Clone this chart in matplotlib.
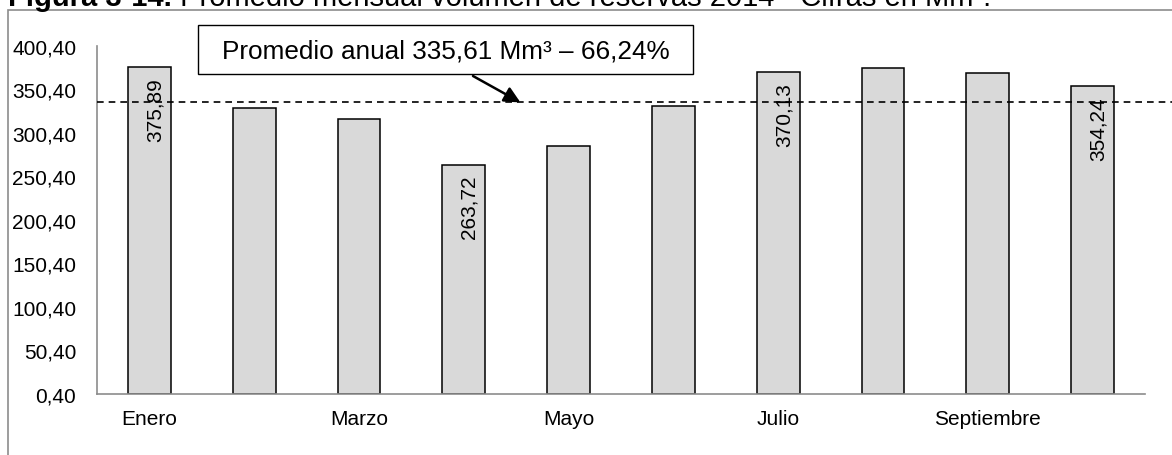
import matplotlib
matplotlib.use("Agg")
import matplotlib.pyplot as plt
from matplotlib.patches import Rectangle

plt.rcParams['font.family'] = ['Liberation Sans', 'DejaVu Sans']

# Volumen promedio mensual de reservas 2014 (Mm3)
meses = ['Enero', 'Febrero', 'Marzo', 'Abril', 'Mayo', 'Junio',
         'Julio', 'Agosto', 'Septiembre', 'Octubre']
volumen = [375.89, 329.1, 316.2, 263.72, 285.8, 331.8, 370.13, 375.1, 369.7, 354.24]
meses_etiquetados = ['Enero', 'Abril', 'Julio', 'Octubre']
promedio = 335.61
porcentaje = 66.24
y_ticks = [0.40, 50.40, 100.40, 150.40, 200.40, 250.40, 300.40, 350.40, 400.40]

fig = plt.figure(figsize=(11.72, 4.56), dpi=100)
ax = fig.add_axes([97 / 1172, 61 / 456, 1048 / 1172, 348 / 456])

x = list(range(len(meses)))
ax.bar(x, volumen, width=0.41, color='#d9d9d9', edgecolor='black', linewidth=1.1, zorder=2)

ax.set_xlim(-0.5, len(meses) - 0.5)
ax.set_ylim(y_ticks[0], y_ticks[-1])
ax.set_yticks(y_ticks)
ax.set_yticklabels([f"{v:.2f}".replace('.', ',') for v in y_ticks])
ax.set_xticks(x)
ax.set_xticklabels([m if i % 2 == 0 else '' for i, m in enumerate(meses)])
ax.tick_params(axis='both', length=0, labelsize=15, colors='black')
ax.tick_params(axis='y', pad=15)
ax.tick_params(axis='x', pad=11)

for s in ['top', 'right']:
    ax.spines[s].set_visible(False)
for s in ['left', 'bottom']:
    ax.spines[s].set_color('#8c8c8c')
    ax.spines[s].set_linewidth(1.2)

# etiquetas de valor dentro de las barras
for i, m in enumerate(meses):
    if m in meses_etiquetados:
        ax.annotate(f"{volumen[i]:.2f}".replace('.', ','), xy=(i, volumen[i]),
                    xytext=(4, -7), textcoords='offset points',
                    rotation=90, ha='center', va='top', fontsize=15, zorder=4)

# línea de promedio anual
ax.plot([0, 1.026], [promedio, promedio], transform=ax.get_yaxis_transform(),
        color='black', linestyle=(0, (4, 3)), linewidth=1.2, clip_on=False, zorder=3)

# recuadro de texto con flecha
fig.patches.append(Rectangle((198 / 1172, 1 - 75 / 456), 495 / 1172, 49 / 456,
                             transform=fig.transFigure, facecolor='white',
                             edgecolor='black', linewidth=1.0, zorder=5))
fig.text(445.5 / 1172, 1 - 51 / 456,
         f"Promedio anual {promedio:.2f} Mm³ – {porcentaje:.2f}%".replace('.', ','),
         ha='center', va='center', fontsize=18.8, zorder=6)
ax.annotate('', xy=(3.54, promedio), xycoords='data',
            xytext=(473, 456 - 77), textcoords='figure pixels',
            arrowprops=dict(arrowstyle='-|>', color='black', lw=1.8,
                            mutation_scale=24, shrinkA=0, shrinkB=0))

# marco exterior y título
fig.patches.append(Rectangle((8 / 1172, -0.2), 1.2, 1.2 - 11 / 456,
                             transform=fig.transFigure, facecolor='none',
                             edgecolor='#8c8c8c', linewidth=1.2))
t1 = fig.text(8 / 1172, 1 - 6 / 456, "Figura 3-14.", fontsize=21,
              fontweight='bold', va='baseline', ha='left')
ax.annotate(" Promedio mensual volumen de reservas 2014 - Cifras en Mm³.",
            xy=(1, 0), xycoords=t1, va='bottom', ha='left', fontsize=21,
            annotation_clip=False)

fig.savefig("out.png", dpi=100)
